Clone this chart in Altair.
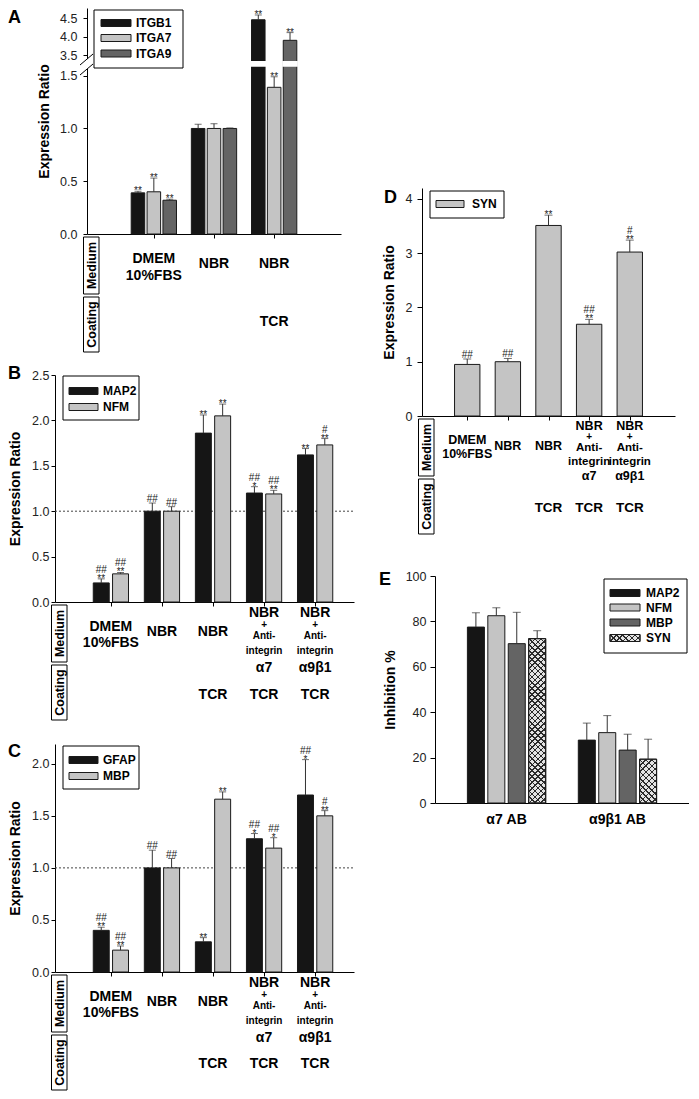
import altair as alt
import pandas as pd

FONT = "Liberation Sans"
BLACK, LIGHT, DARK = "#151515", "#c4c4c4", "#646464"
HATCH_BG, EDGE, ERRC = "#e3e3e3", "#1a1a1a", "#333333"

# ---------------- Panel A data ----------------
a_groups = ["DMEM", "NBR", "NBR-TCR"]
a_medium = [["DMEM", "10%FBS"], ["NBR"], ["NBR"]]
a_coating = ["", "", "TCR"]
a_series = ["ITGB1", "ITGA7", "ITGA9"]
a_val = {"ITGB1": [0.39, 1.00, 4.46], "ITGA7": [0.40, 1.00, 1.39], "ITGA9": [0.32, 1.00, 3.90]}
a_err = {"ITGB1": [0.015, 0.04, 0.13], "ITGA7": [0.13, 0.045, 0.10], "ITGA9": [0.01, 0.005, 0.21]}
a_star = {"ITGB1": ["**", "", "**"], "ITGA7": ["**", "", "**"], "ITGA9": ["**", "", "**"]}
a_hash = {"ITGB1": ["", "", ""], "ITGA7": ["", "", ""], "ITGA9": ["", "", ""]}
a_yticks = [0, 0.5, 1.0, 1.5, 3.5, 4.0, 4.5]

# ---------------- Panels B, C, D categories ----------------
bc_groups = ["DMEM", "NBR", "NBR-TCR", "A7-TCR", "A9B1-TCR"]
bc_medium = [["DMEM", "10%FBS"], ["NBR"], ["NBR"],
             ["NBR", "+", "Anti-", "integrin", "α7"],
             ["NBR", "+", "Anti-", "integrin", "α9β1"]]
bc_coating = ["", "", "TCR", "TCR", "TCR"]

# ---------------- Panel B data ----------------
b_series = ["MAP2", "NFM"]
b_val = {"MAP2": [0.21, 1.00, 1.86, 1.20, 1.62], "NFM": [0.31, 1.00, 2.05, 1.19, 1.73]}
b_err = {"MAP2": [0.045, 0.09, 0.20, 0.07, 0.07], "NFM": [0.015, 0.05, 0.13, 0.04, 0.07]}
b_star = {"MAP2": ["**", "", "**", "*", "**"], "NFM": ["**", "", "**", "**", "**"]}
b_hash = {"MAP2": ["##", "##", "", "##", ""], "NFM": ["##", "##", "", "##", "#"]}

# ---------------- Panel C data ----------------
c_series = ["GFAP", "MBP"]
c_val = {"GFAP": [0.40, 1.00, 0.29, 1.28, 1.70], "MBP": [0.21, 1.00, 1.66, 1.19, 1.50]}
c_err = {"GFAP": [0.03, 0.17, 0.04, 0.05, 0.34], "MBP": [0.04, 0.09, 0.07, 0.10, 0.05]}
c_star = {"GFAP": ["**", "", "**", "*", "*"], "MBP": ["**", "", "**", "*", "**"]}
c_hash = {"GFAP": ["##", "##", "", "##", "##"], "MBP": ["##", "##", "", "##", "#"]}

# ---------------- Panel D data ----------------
d_series = ["SYN"]
d_val = {"SYN": [0.95, 1.00, 3.51, 1.69, 3.02]}
d_err = {"SYN": [0.10, 0.06, 0.19, 0.09, 0.22]}
d_star = {"SYN": ["", "", "**", "**", "**"]}
d_hash = {"SYN": ["##", "##", "", "##", "#"]}

# ---------------- Panel E data ----------------
e_groups = ["α7 AB", "α9β1 AB"]
e_series = ["MAP2", "NFM", "MBP", "SYN"]
e_val = {"MAP2": [77.5, 27.7], "NFM": [82.5, 31.0], "MBP": [70.2, 23.3], "SYN": [72.4, 19.3]}
e_err = {"MAP2": [6.3, 7.5], "NFM": [3.5, 7.5], "MBP": [13.8, 7.0], "SYN": [3.5, 8.8]}
e_none = {s: ["", ""] for s in e_series}


def hatch(w, h, direction, period=5.8, lw=1.1, color="#2a2a2a"):
    L = (w * w + h * h) / (w + h)
    n = max(1, int(round((w + h) / period)))
    d = lw * 1.4142 / (w + h)
    stops = []
    for k in range(n):
        o0 = k / n
        o1 = min(o0 + d, (k + 1) / n)
        stops += [
            {"offset": round(o0, 5), "color": color},
            {"offset": round(o1, 5), "color": color},
            {"offset": round(o1, 5), "color": "transparent"},
            {"offset": round((k + 1) / n, 5), "color": "transparent"},
        ]
    if direction == 1:
        x1, y1, x2, y2 = 0, 0, w / L, h / L
    else:
        x1, y1, x2, y2 = 0, 1, w / L, 1 - h / L
    return {"gradient": "linear", "x1": x1, "y1": y1, "x2": x2, "y2": y2, "stops": stops}


ONE = pd.DataFrame({"k": [0]})


def make_panel(c):
    groups, series = c["groups"], c["series"]
    W, H, ox, oy = c["w"], c["h"], c["ox"], c["oy"]
    n, m = len(groups), len(series)
    step = W / (n - c["pi"] + 2 * c["po"])
    bw = step * (1 - c["pi"])
    c0 = c["align"] * 2 * c["po"] * step + bw / 2
    ostep = bw / (m - c["pio"])
    bar_px = ostep * (1 - c["pio"])
    so = ostep / step
    xdom = [-c0 / step, (W - c0) / step]

    rows = []
    for j, s in enumerate(series):
        for i, g in enumerate(groups):
            rows.append({"group": g, "series": s, "col": c["colors"][j],
                         "xc": i + (j - (m - 1) / 2) * so,
                         "v": c["val"][s][i], "e": c["err"][s][i],
                         "star": c["star"][s][i], "hash": c["hash"][s][i]})
    df = pd.DataFrame(rows)
    df["top"] = df["v"] + df["e"]
    df["gl"] = 2.45
    df["gh"] = 2.83

    xscale = alt.Scale(domain=xdom, range=[ox, ox + W], nice=False, zero=False)
    xaxis = alt.Axis(values=list(range(n)), labels=False, ticks=c["xticks"], tickSize=4,
                     tickColor="black", domainColor="black", grid=False, title=None)

    def X(f):
        return alt.X(f + ":Q", scale=xscale, axis=xaxis)

    yaxis = alt.Axis(values=c["yticks"], format=c["fmt"], titleFontSize=14, titleFontWeight="bold",
                     titleX=c["tx"], titleY=oy + H / 2, titleAngle=270, titleBaseline="middle",
                     titleAlign="center", titleColor="black", labelFontSize=12.5, labelColor="#222",
                     labelPadding=c["lp"], tickSize=c["ts"], tickColor="black", domainColor="black",
                     grid=False, labelFlush=False, labelOverlap=False, offset=-ox)

    def Y(f):
        return alt.Y(f + ":Q", scale=c["yscale"], axis=yaxis, title=c["ytitle"], stack=False)

    base = alt.Chart(df)
    layers = []
    if c.get("refline"):
        layers.append(alt.Chart(pd.DataFrame({"r": [1.0]}))
                      .mark_rule(strokeDash=[2, 2], color="#444", strokeWidth=1)
                      .encode(x=alt.value(ox), x2=alt.value(ox + W), y=Y("r")))
    layers.append(base.mark_bar(stroke=EDGE, strokeWidth=1, width=bar_px, orient="vertical")
                  .encode(x=X("xc"), y=Y("v"), fill=alt.Fill("col:N", scale=None)))

    if c.get("hatch"):
        for g, v in zip(groups, c["val"]["SYN"]):
            hp = v / c["ymax"] * H
            for d in (1, 2):
                layers.append(base.transform_filter(f"datum.series == 'SYN' && datum.group == '{g}'")
                              .mark_bar(fill=hatch(bar_px, hp, d), width=bar_px, orient="vertical")
                              .encode(x=X("xc"), y=Y("v")))
        layers.append(base.transform_filter("datum.series == 'SYN'")
                      .mark_bar(fillOpacity=0, stroke=EDGE, strokeWidth=1, width=bar_px, orient="vertical")
                      .encode(x=X("xc"), y=Y("v")))

    if c.get("broken"):
        layers.append(base.transform_filter("datum.v > 1.5")
                      .mark_bar(fill="white", stroke="white", strokeWidth=2, width=bar_px, orient="vertical")
                      .encode(x=X("xc"), y=Y("gl"), y2="gh:Q"))

    layers.append(base.mark_rule(color=ERRC, strokeWidth=1).encode(x=X("xc"), y=Y("v"), y2="top:Q"))
    layers.append(base.mark_tick(color=ERRC, thickness=1, size=c["cap"], orient="horizontal")
                  .encode(x=X("xc"), y=Y("top")))
    sig = dict(fontSize=10, baseline="alphabetic", align="center", color="#1a1a1a")
    layers.append(base.transform_filter("datum.star != ''").mark_text(dy=3, **sig)
                  .encode(x=X("xc"), y=Y("top"), text="star:N"))
    layers.append(base.transform_filter("datum.hash != '' && datum.star != ''").mark_text(dy=-6, **sig)
                  .encode(x=X("xc"), y=Y("top"), text="hash:N"))
    layers.append(base.transform_filter("datum.hash != '' && datum.star == ''").mark_text(dy=-1, **sig)
                  .encode(x=X("xc"), y=Y("top"), text="hash:N"))

    # legend
    lg = c["legend"]
    bx0, by0, bx1, by1 = lg["box"]
    layers.append(alt.Chart(ONE).mark_rect(fill="white", stroke="black", strokeWidth=1)
                  .encode(x=alt.value(ox + bx0), x2=alt.value(ox + bx1),
                          y=alt.value(oy + by0), y2=alt.value(oy + by1)))
    sx0, sx1 = lg["sw"]
    sh = lg["sh"]
    for i, s in enumerate(series):
        yc = oy + lg["rows"][i]
        pos = dict(x=alt.value(ox + sx0), x2=alt.value(ox + sx1),
                   y=alt.value(yc - sh / 2), y2=alt.value(yc + sh / 2))
        layers.append(alt.Chart(ONE).mark_rect(fill=c["colors"][i], stroke=EDGE, strokeWidth=1).encode(**pos))
        if c.get("hatch") and s == "SYN":
            for d in (1, 2):
                layers.append(alt.Chart(ONE).mark_rect(fill=hatch(sx1 - sx0, sh, d)).encode(**pos))
            layers.append(alt.Chart(ONE).mark_rect(fillOpacity=0, stroke=EDGE, strokeWidth=1).encode(**pos))
        layers.append(alt.Chart(ONE).mark_text(text=s, fontSize=12, fontWeight="bold", align="left",
                                               baseline="middle", color="black")
                      .encode(x=alt.value(ox + lg["lx"]), y=alt.value(yc)))

    # category labels under the axis
    lrows = []
    for gi, (g, lines, co) in enumerate(zip(groups, c["medium"], c["coating"])):
        k = len(lines)
        for i, t in enumerate(lines):
            lrows.append({"gi": gi, "text": t, "slot": f"m{k}_{i}"})
        if co:
            lrows.append({"gi": gi, "text": co, "slot": "coat"})
    ldf = pd.DataFrame(lrows)
    for slot in sorted(set(ldf["slot"])):
        off, fs = c["slots"][slot]
        layers.append(alt.Chart(ldf).transform_filter(f"datum.slot == '{slot}'")
                      .mark_text(fontSize=fs, fontWeight="bold", align="center",
                                 baseline="middle", color="black")
                      .encode(x=X("gi"), y=alt.value(oy + H + off), text="text:N"))

    if c.get("rowboxes"):
        for name, y0, y1 in [("Medium", 3, 60), ("Coating", 63, 118)]:
            yy0, yy1 = oy + H + y0, oy + H + y1
            layers.append(alt.Chart(ONE).mark_rect(fill="white", stroke="black", strokeWidth=1)
                          .encode(x=alt.value(ox - 3.5), x2=alt.value(ox + 12),
                                  y=alt.value(yy0), y2=alt.value(yy1)))
            layers.append(alt.Chart(ONE).mark_text(text=name, angle=270, fontSize=12.5, fontWeight="bold",
                                                   align="center", baseline="middle", color="black")
                          .encode(x=alt.value(ox + 4.5), y=alt.value((yy0 + yy1) / 2)))

    if c.get("broken"):
        layers.append(alt.Chart(ONE).mark_rect(fill="white")
                      .encode(x=alt.value(ox - 1.5), x2=alt.value(ox + 1.5),
                              y=alt.value(oy + 51), y2=alt.value(oy + 61)))
        for ya, yb in [(57, 46), (67, 56)]:
            layers.append(alt.Chart(ONE).mark_rule(color="black", strokeWidth=1)
                          .encode(x=alt.value(ox - 7), x2=alt.value(ox + 6),
                                  y=alt.value(oy + ya), y2=alt.value(oy + yb)))

    lx, ly = c["letter_pos"]
    layers.append(alt.Chart(ONE).mark_text(text=c["letter"], fontSize=18, fontWeight="bold", align="left",
                                           baseline="middle", color="black")
                  .encode(x=alt.value(ox + lx), y=alt.value(oy + ly)))
    return alt.layer(*layers).properties(width=c["cw"], height=oy + H)


SL_BC = {"m1_0": (30, 14), "m2_0": (24.5, 14), "m2_1": (41, 14),
         "m5_0": (11, 14), "m5_1": (23, 10), "m5_2": (33.5, 10),
         "m5_3": (49, 10), "m5_4": (66, 14), "coat": (93, 14)}
SL_A = {"m1_0": (30, 14), "m2_0": (25, 14), "m2_1": (42, 14), "coat": (88, 14)}
SL_D = {"m1_0": (30, 12.5), "m2_0": (24, 12.5), "m2_1": (38, 12.5),
        "m5_0": (10, 12.5), "m5_1": (21, 10), "m5_2": (31.5, 11.5),
        "m5_3": (45.5, 11.5), "m5_4": (59.5, 12.5), "coat": (92, 13.5)}
SL_E = {"m1_0": (17, 14)}

# grid geometry (flush cells, no spacing)
COL1_W, COL2_W = 367, 267
A_H = 226

chartA = make_panel(dict(
    groups=a_groups, medium=a_medium, coating=a_coating, series=a_series,
    val=a_val, err=a_err, star=a_star, hash=a_hash, colors=[BLACK, LIGHT, DARK],
    w=254, h=A_H, ox=32, oy=0, cw=COL1_W,
    pi=0.256, po=0.656, align=0.5, pio=0.18, cap=7, xticks=True,
    yscale=alt.Scale(domain=[0, 1.5, 3.5, 4.78], range=[A_H, 67.7, 47, 0], nice=False),
    yticks=a_yticks, fmt=".1f", ytitle="Expression Ratio", tx=-42.5, ts=4, lp=6,
    legend=dict(box=(7, 2, 96, 60), sw=(14, 44), rows=[15, 30, 45.5], lx=49, sh=7),
    slots=SL_A, rowboxes=True, broken=True, letter="A", letter_pos=(-79, 9.5)))

D_OY, D_H = 180, 228
chartD = make_panel(dict(
    groups=bc_groups, medium=bc_medium, coating=bc_coating, series=d_series,
    val=d_val, err=d_err, star=d_star, hash=d_hash, colors=[LIGHT],
    w=253, h=D_H, ox=0, oy=D_OY, cw=COL2_W,
    pi=0.4, po=0.69, align=0.5, pio=0, cap=8, xticks=True,
    yscale=alt.Scale(domain=[0, 4.2], range=[D_OY + D_H, D_OY], nice=False),
    yticks=[0, 1, 2, 3, 4], fmt="d",
    ytitle="Expression Ratio", tx=-32.5, ts=5, lp=5,
    legend=dict(box=(8, 3, 82, 30), sw=(14, 42), rows=[16], lx=50, sh=7),
    slots=SL_D, rowboxes=True, letter="D", letter_pos=(-38, 10)))

ROW2 = D_OY + D_H           # 408
B_OY, B_H = 367 - ROW2, 227
chartB = make_panel(dict(
    groups=bc_groups, medium=bc_medium, coating=bc_coating, series=b_series,
    val=b_val, err=b_err, star=b_star, hash=b_hash, colors=[BLACK, LIGHT],
    w=299, h=B_H, ox=0, oy=B_OY, cw=COL1_W,
    pi=0.32, po=0.49, align=0.67, pio=0.2, cap=7, xticks=True,
    yscale=alt.Scale(domain=[0, 2.5], range=[B_OY + B_H, B_OY], nice=False),
    yticks=[0, 0.5, 1.0, 1.5, 2.0, 2.5], fmt=".1f",
    ytitle="Expression Ratio", tx=-39.5, ts=4, lp=2, refline=True,
    legend=dict(box=(8, 1, 84, 45), sw=(14, 43), rows=[16, 32], lx=48, sh=7),
    slots=SL_BC, rowboxes=True, letter="B", letter_pos=(-47, -1)))

E_OY, E_W, E_H = 568 - ROW2, 254, 227  # 160
chartE = make_panel(dict(
    groups=e_groups, medium=[[g] for g in e_groups], coating=["", ""], series=e_series,
    val=e_val, err=e_err, star=e_none, hash=e_none, colors=[BLACK, LIGHT, DARK, HATCH_BG],
    w=E_W, h=E_H, ox=13, oy=E_OY, cw=COL2_W,
    pi=0.3, po=0.25, align=0.5, pio=0.2, cap=8, xticks=False,
    yscale=alt.Scale(domain=[0, 100], range=[E_OY + E_H, E_OY], nice=False),
    yticks=[0, 20, 40, 60, 80, 100], fmt="d",
    ytitle="Inhibition %", tx=-45, ts=5, lp=4, hatch=True, ymax=100,
    legend=dict(box=(169, 3, 252, 77), sw=(175, 205), rows=[17, 31.5, 46.5, 62], lx=211, sh=7),
    slots=SL_E, rowboxes=False, letter="E", letter_pos=(-56, 4)))

ROW3 = ROW2 + E_OY + E_H    # 795
C_OY, C_H = 736 - ROW3, 228
chartC = make_panel(dict(
    groups=bc_groups, medium=bc_medium, coating=bc_coating, series=c_series,
    val=c_val, err=c_err, star=c_star, hash=c_hash, colors=[BLACK, LIGHT],
    w=299, h=C_H, ox=0, oy=C_OY, cw=COL1_W,
    pi=0.32, po=0.49, align=0.67, pio=0.2, cap=7, xticks=True,
    yscale=alt.Scale(domain=[0, 2.19], range=[C_OY + C_H, C_OY], nice=False),
    yticks=[0, 0.5, 1.0, 1.5, 2.0], fmt=".1f",
    ytitle="Expression Ratio", tx=-39.5, ts=4, lp=2, refline=True,
    legend=dict(box=(8, 2, 84, 45), sw=(14, 43), rows=[16, 32], lx=48, sh=7),
    slots=dict(SL_BC, coat=(92, 14)), rowboxes=True, letter="C", letter_pos=(-47, 8)))

filler = (alt.Chart(ONE).mark_rect(opacity=0)
          .encode(x=alt.value(0), x2=alt.value(1), y=alt.value(0), y2=alt.value(1))
          .properties(width=COL2_W, height=1))

chart = (alt.concat(chartA, chartD, chartB, chartE, chartC, filler,
                    columns=2, spacing=0, bounds="flush", align="each")
         .properties(padding=0)
         .configure(font=FONT)
         .configure_view(stroke=None))

chart.save("out.html", embed_options={"renderer": "svg", "actions": False})
